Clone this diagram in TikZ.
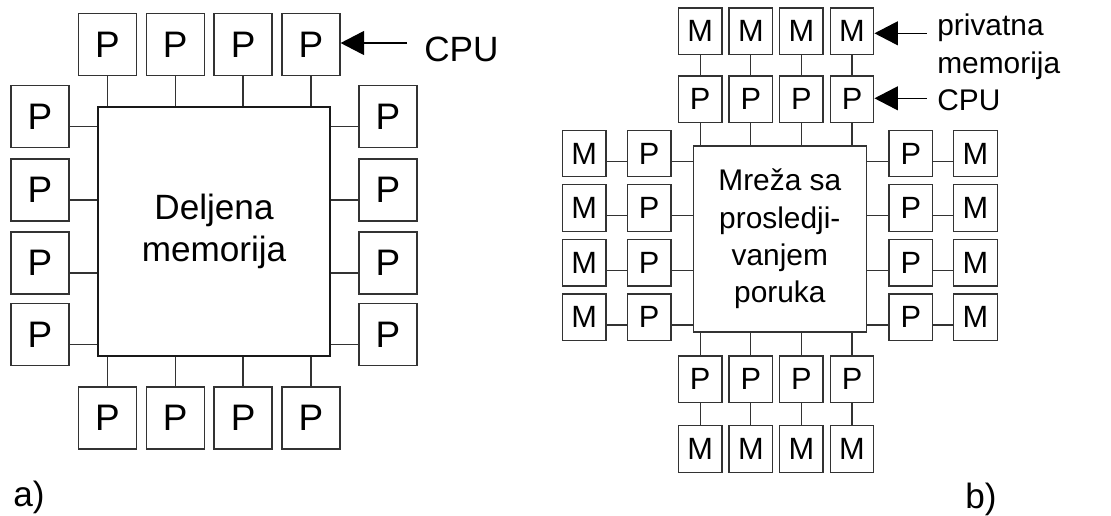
\documentclass[tikz,border=0pt]{standalone}
\usepackage{fontspec}
\setmainfont{Liberation Sans}
\usetikzlibrary{arrows.meta}

\begin{document}
\begin{tikzpicture}[x=0.02cm, y=-0.02cm, every node/.style={align=center},
  box/.style={draw=black!80, line width=0.8pt, inner sep=0pt},
  bigP/.style={box, minimum width=1.16cm, minimum height=1.24cm, font=\fontsize{21}{24}\selectfont},
  smallbox/.style={box, minimum width=0.87cm, minimum height=0.93cm, font=\fontsize{17.5}{21}\selectfont},
  wire/.style={draw=black!80, line width=0.7pt},
  pointer/.style={line width=0.7pt, -{Triangle[length=0.47cm, width=0.48cm]}},
  label/.style={inner sep=0pt, anchor=base west}]
  \useasboundingbox (0,0) rectangle (1111,515);

  % a) shared memory
  \node[box, draw=black!90, minimum width=4.64cm, minimum height=4.98cm, font=\fontsize{20}{23.8}\selectfont] (mem) at (214,231.4) {Deljena\\memorija};
  \foreach \x [count=\i] in {107.5,175.3,243.1,310.9} {
    \node[bigP] (lt\i) at (\x,44.5) {P};
    \node[bigP] (lb\i) at (\x,417.9) {P};
    \draw[wire] (lt\i) -- (lt\i |- mem.north);
    \draw[wire] (lb\i) -- (lb\i |- mem.south);
  }
  \foreach \y [count=\i] in {116.5,190,263,334.5} {
    \node[bigP] (ll\i) at (40,\y) {P};
    \node[bigP] (lr\i) at (388,\y) {P};
    \draw[wire] ([yshift=-0.2cm]ll\i.east) -- ([yshift=-0.2cm]ll\i.east -| mem.west);
    \draw[wire] ([yshift=-0.2cm]lr\i.west) -- ([yshift=-0.2cm]lr\i.west -| mem.east);
  }
  \node[label, font=\fontsize{20}{24}\selectfont] (cpuA) at (424,61.7) {CPU};
  \coordinate (cpuAt) at (407,43);
  \draw[pointer] (cpuAt) -- (cpuAt -| lt4.east);
  \node[label, font=\fontsize{20}{24}\selectfont] (la) at (13,506.7) {a)};

  % b) message passing
  \node[box, minimum width=3.46cm, minimum height=3.72cm, font=\fontsize{17}{21.3}\selectfont] (net) at (779.8,239) {Mreža sa\\prosledji-\\vanjem\\poruka};
  \foreach \x [count=\i] in {700.2,750.8,801.4,852} {
    \node[smallbox] (mt\i) at (\x,31.3) {M};
    \node[smallbox] (pt\i) at (\x,99.3) {P};
    \node[smallbox] (pb\i) at (\x,379.2) {P};
    \node[smallbox] (mb\i) at (\x,449) {M};
    \draw[wire] (mt\i) -- (pt\i);
    \draw[wire] (pt\i) -- (pt\i |- net.north);
    \draw[wire] (pb\i) -- (pb\i |- net.south);
    \draw[wire] (pb\i) -- (mb\i);
  }
  \foreach \y [count=\i] in {153.5,208,262.8,317.3} {
    \node[smallbox] (ml\i) at (584.2,\y) {M};
    \node[smallbox] (pl\i) at (649.2,\y) {P};
    \node[smallbox] (pr\i) at (910.8,\y) {P};
    \node[smallbox] (mr\i) at (975.5,\y) {M};
    \draw[wire] ([yshift=-0.156cm]ml\i.east) -- ([yshift=-0.156cm]pl\i.west);
    \draw[wire] ([yshift=-0.156cm]pl\i.east) -- ([yshift=-0.156cm]pl\i.east -| net.west);
    \draw[wire] ([yshift=-0.156cm]pr\i.west) -- ([yshift=-0.156cm]pr\i.west -| net.east);
    \draw[wire] ([yshift=-0.156cm]pr\i.east) -- ([yshift=-0.156cm]mr\i.west);
  }
  \node[anchor=west, inner sep=0pt, align=left, font=\fontsize{17}{21.6}\selectfont] (privB) at (937,47) {privatna\\memorija};
  \node[label, font=\fontsize{17}{21}\selectfont] (cpuB) at (937,110) {CPU};
  \coordinate (privAt) at (926.7,33.3);
  \coordinate (cpuBt) at (926.7,98.3);
  \draw[pointer] (privAt) -- (privAt -| mt4.east);
  \draw[pointer] (cpuBt) -- (cpuBt -| pt4.east);
  \node[label, font=\fontsize{20}{24}\selectfont] (lb) at (965,508) {b)};
\end{tikzpicture}
\end{document}
